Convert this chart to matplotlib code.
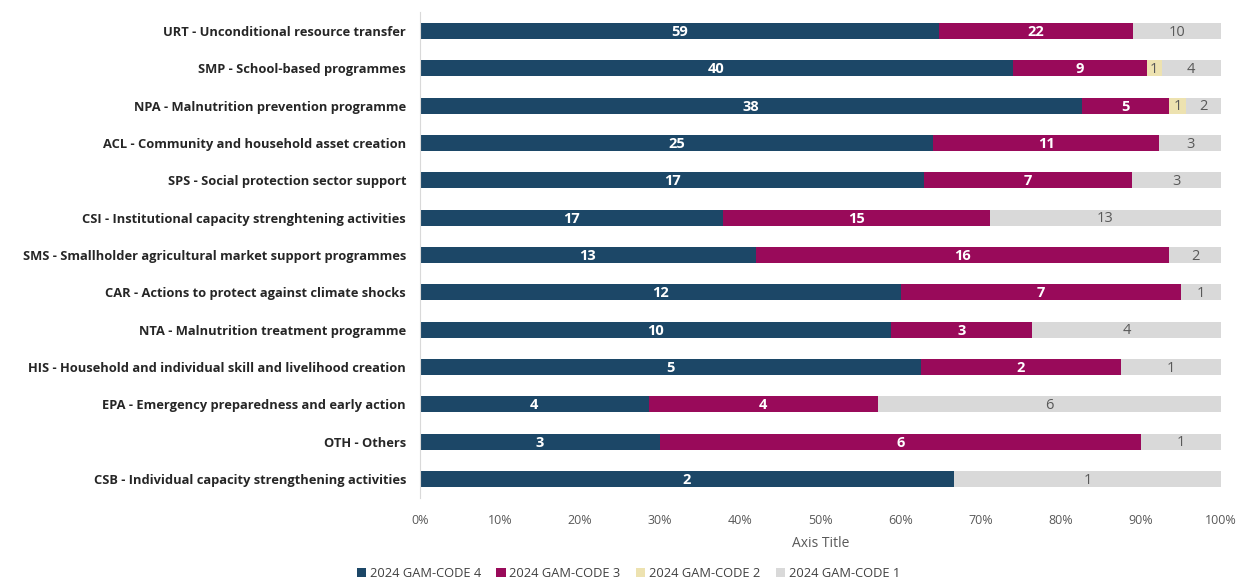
import matplotlib
matplotlib.use("Agg")
import matplotlib.pyplot as plt
import numpy as np
from matplotlib.ticker import PercentFormatter

plt.rcParams['font.family'] = ['Open Sans', 'DejaVu Sans']

categories = [
    "URT - Unconditional resource transfer",
    "SMP - School-based programmes",
    "NPA - Malnutrition prevention programme",
    "ACL - Community and household asset creation",
    "SPS - Social protection sector support",
    "CSI - Institutional capacity strenghtening activities",
    "SMS - Smallholder agricultural market support programmes",
    "CAR - Actions to protect against climate shocks",
    "NTA - Malnutrition treatment programme",
    "HIS - Household and individual skill and livelihood creation",
    "EPA - Emergency preparedness and early action",
    "OTH - Others",
    "CSB - Individual capacity strengthening activities",
]
code4 = [59, 40, 38, 25, 17, 17, 13, 12, 10, 5, 4, 3, 2]
code3 = [22, 9, 5, 11, 7, 15, 16, 7, 3, 2, 4, 6, 0]
code2 = [0, 1, 1, 0, 0, 0, 0, 0, 0, 0, 0, 0, 0]
code1 = [10, 4, 2, 3, 3, 13, 2, 1, 4, 1, 6, 1, 1]

series = [
    ("2024 GAM-CODE 4", code4, "#1C4767", "white", "bold"),
    ("2024 GAM-CODE 3", code3, "#990A5A", "white", "bold"),
    ("2024 GAM-CODE 2", code2, "#EDE2B0", "#595959", "normal"),
    ("2024 GAM-CODE 1", code1, "#D9D9D9", "#595959", "normal"),
]

totals = np.array(code4) + np.array(code3) + np.array(code2) + np.array(code1)
y = np.arange(len(categories))

fig = plt.figure(figsize=(12.37, 5.79), dpi=100)
ax = fig.add_axes([0.3395, 0.1404, 0.6475, 0.8384])

left = np.zeros(len(categories))
for name, vals, color, tcol, tw in series:
    v = np.array(vals, dtype=float)
    frac = v / totals
    ax.barh(y, frac, left=left, height=0.43, color=color, label=name, edgecolor='none')
    for i in range(len(categories)):
        if v[i] > 0:
            ax.text(left[i] + frac[i] / 2, y[i] + 0.03, f"{int(v[i])}", ha='center', va='center',
                    color=tcol, fontsize=10.5, fontweight=tw)
    left += frac

ax.set_ylim(len(categories) - 0.5, -0.5)
ax.set_xlim(0, 1)
ax.set_yticks(y)
ax.set_yticklabels(categories, fontsize=9.3, fontweight='bold', color='#262626')
ax.xaxis.set_major_locator(plt.MultipleLocator(0.1))
ax.xaxis.set_major_formatter(PercentFormatter(1.0, decimals=0))
ax.tick_params(axis='x', colors='#595959', labelsize=9, length=0, pad=12)
ax.tick_params(axis='y', length=0, pad=10)
for s in ['top', 'right', 'bottom']:
    ax.spines[s].set_visible(False)
ax.spines['left'].set_color('#D9D9D9')
ax.set_xlabel("Axis Title", fontsize=10, color='#595959', labelpad=6)

handles, labels = ax.get_legend_handles_labels()
leg = fig.legend(handles, labels, loc='center', bbox_to_anchor=(0.508, 0.01), ncol=4,
                 frameon=False, fontsize=9.3, handlelength=0.7, handleheight=0.7,
                 handletextpad=0.3, columnspacing=1.2, labelcolor='#404040')

fig.savefig("out.png", dpi=100)
